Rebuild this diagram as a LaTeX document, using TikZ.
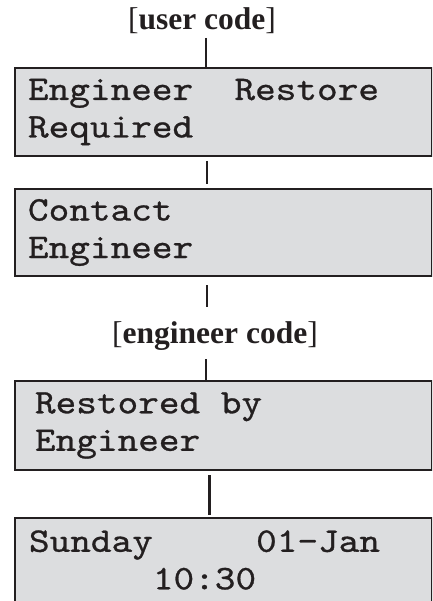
\documentclass[tikz,border=0pt]{standalone}
\usepackage{fontspec}
\setmainfont{Liberation Serif}
\newfontfamily\lcdfont{lmmono10-regular.otf}[FakeStretch=1.14, FakeBold=0.8]
\usetikzlibrary{positioning}
\definecolor{lcdgray}{RGB}{220, 221, 223}
\definecolor{inkdark}{RGB}{35, 31, 32}
\newcommand\lsp{\hphantom{0}}
\tikzset{
    lcdbox/.style={draw=inkdark, line width=2pt, fill=lcdgray, anchor=north west,
                minimum width=417pt, inner xsep=#1, text width=417pt-2*#1,
                align=left, text=inkdark,
                font=\lcdfont\fontsize{34.5}{37.5}\selectfont},
    codelbl/.style={anchor=base, inner sep=0pt, text=inkdark,
                font=\fontsize{31.5}{33}\selectfont},
    link/.style={draw=inkdark, line width=2pt},
}

\begin{document}
\begin{tikzpicture}[x=1pt, y=-1pt]
    \useasboundingbox (0,0) rectangle (432,601);
    \clip (0,0) rectangle (432,601);

    \node[codelbl] (usercode) at (202,30) {[\textbf{user code}]};
    \node[lcdbox=13pt, minimum height=88pt] (restreq) at (14,67)
        {Engineer\lsp\lsp Restore\\Required};
    \node[lcdbox=13pt, minimum height=87pt] (contact) at (14,188)
        {Contact\\Engineer};
    \node[codelbl] (engcode) at (215,343) {[\textbf{engineer code}]};
    \node[lcdbox=20pt, minimum height=89pt] (restored) at (14,380)
        {Restored\lsp by\\Engineer};
    \node[lcdbox=14pt, minimum height=84pt] (idle) at (14,517)
        {Sunday\lsp\lsp\lsp\lsp\lsp 01-Jan\\\hphantom{Sunday}10:30};

    % connectors
    \coordinate (u1) at (206,38);
    \coordinate (j1) at (207,0);
    \coordinate (j2) at (207,307);
    \coordinate (e1) at (206,359);
    \coordinate (j3) at (209,0);

    \draw[link] (u1) -- (u1 |- restreq.north);
    \draw[link, shorten <=4pt, shorten >=4pt] (j1 |- restreq.south) -- (j1 |- contact.north);
    \draw[link, shorten <=8pt] (j2 |- contact.south) -- (j2);
    \draw[link] (e1) -- (e1 |- restored.north);
    \draw[link, line width=3pt, shorten <=4pt, shorten >=2pt] (j3 |- restored.south) -- (j3 |- idle.north);

\end{tikzpicture}
\end{document}
